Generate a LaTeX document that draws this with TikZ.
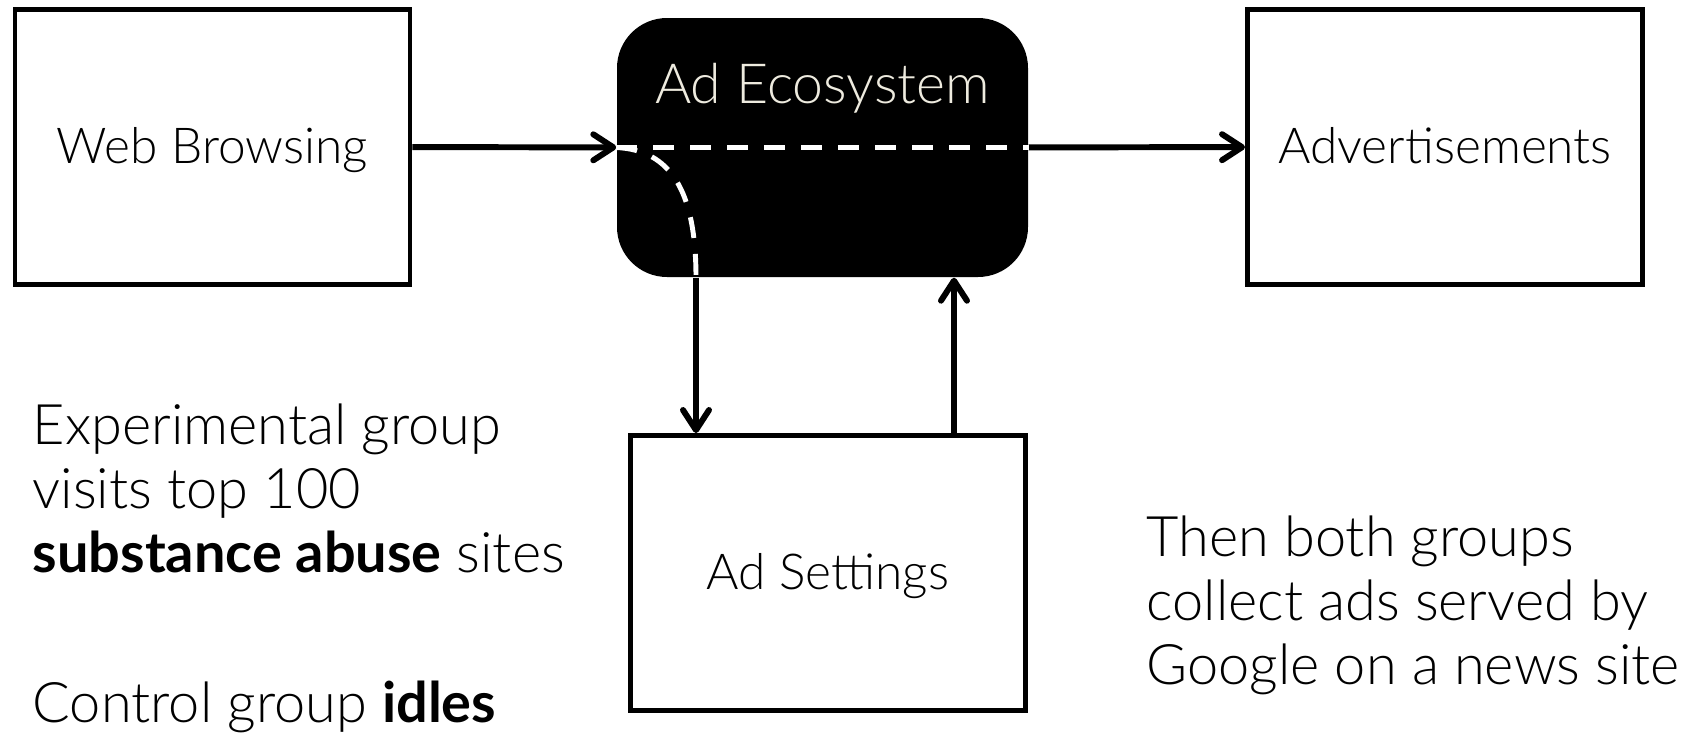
\documentclass[tikz,border=0pt]{standalone}
\usepackage{fontspec}
\setmainfont{Lato}[UprightFont=* Light, BoldFont=* Bold]
\usetikzlibrary{arrows.meta}
\definecolor{cream}{HTML}{EEEBDF}

\begin{document}
\begin{tikzpicture}[>={Straight Barb[length=0.2cm,width=0.26cm,round]}]
        \tikzstyle{box}=[rectangle,draw=black,line width=1.4pt,minimum width=3.95cm,minimum height=2.75cm,text height=0.45cm,text depth=0.12cm,font=\fontsize{14.1}{16}\selectfont]
        \tikzstyle{blackbox}=[rectangle,fill=black,rounded corners=0.5cm,minimum width=4.11cm,minimum height=2.59cm]
        \tikzstyle{note}=[anchor=base west,align=left,inner sep=0pt,font=\fontsize{15.9}{18.2}\selectfont]
        \tikzstyle{flow}=[line width=1.7pt]
        \tikzstyle{path}=[draw=white,line width=1.4pt,dash pattern=on 0.21cm off 0.16cm]
        \useasboundingbox (0,0) rectangle (16.88,-7.36);

        \node[box] (web) at (2.125,-1.47) {Web Browsing};
        \node[blackbox] (eco) at (8.225,-1.475) {};
        \node[text=cream,anchor=base,font=\fontsize{15.75}{18}\selectfont] (ecotxt) at (8.225,-1.03) {Ad Ecosystem};
        \node[box] (ads) at (14.45,-1.47) {Advertisements};
        \node[box] (set) at (8.28,-5.73) {Ad Settings};

        \coordinate (dn) at (6.96,-3.5);
        \coordinate (up) at (9.54,-3.5);

        \draw[flow,->] (web) -- (eco);
        \draw[flow,->] (eco) -- (ads);
        \draw[flow,->] (dn |- eco.south) -- (dn |- set.north);
        \draw[flow,->] (up |- set.north) -- (up |- eco.south);

        % route through the ecosystem
        \draw[path] (eco.west) -- (eco.east);
        \draw[path] (eco.west) .. controls (6.70,-1.50) and (6.96,-1.90) .. (dn |- eco.south);

        \node[note] (exp) at (0.32,-5.72) {Experimental group\\visits top 100\\\textbf{substance abuse} sites};
        \node[note] (ctl) at (0.32,-7.22) {Control group \textbf{idles}};
        \node[note] (then) at (11.46,-6.84) {Then both groups\\collect ads served by\\Google on a news site};
    \end{tikzpicture}
\end{document}
